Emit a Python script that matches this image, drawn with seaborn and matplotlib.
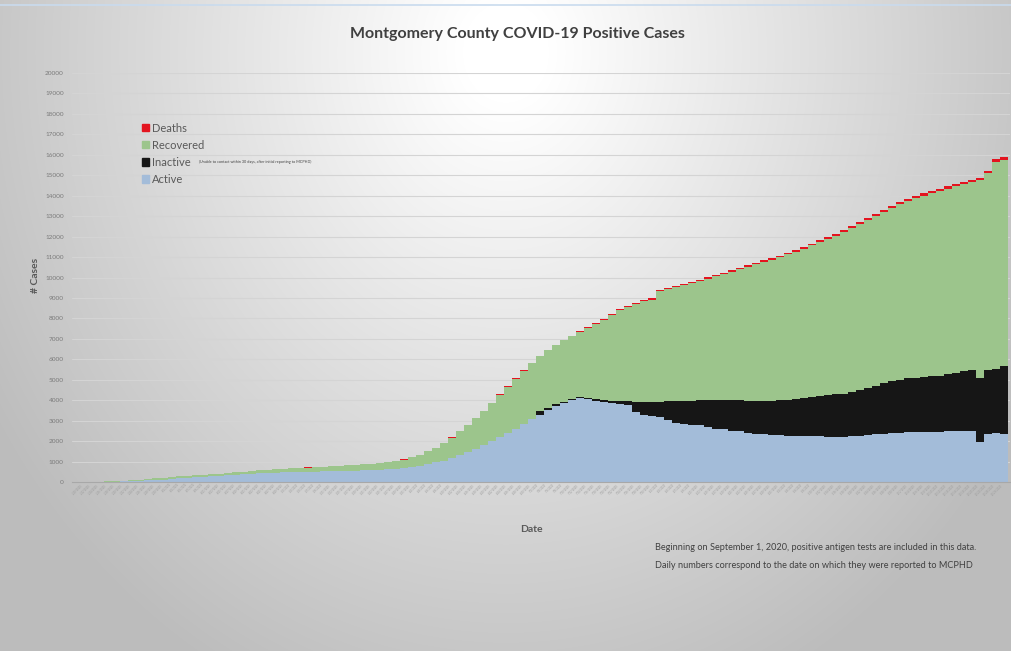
import numpy as np
import pandas as pd
import matplotlib
matplotlib.use("Agg")
import matplotlib.pyplot as plt
import seaborn as sns
from matplotlib.patches import Patch

# ---------------- data ----------------
dates = pd.date_range("2020-03-10", periods=116, freq="2D")
date_labels = [f"{d.month}/{d.day}/{d.year}" for d in dates]

active = [0, 0, 5, 10, 20, 30, 45, 60, 75, 95, 120, 150, 180, 205, 235, 260, 290, 310, 335, 360,
          380, 400, 420, 440, 460, 475, 490, 500, 505, 510, 520, 530, 540, 550, 560, 580, 600, 610, 630, 650,
          680, 730, 800, 880, 960, 1050, 1160, 1300, 1450, 1620, 1800, 2000, 2200, 2400, 2600, 2850, 3100, 3300, 3500, 3700,
          3850, 4000, 4100, 4050, 3950, 3900, 3850, 3800, 3750, 3400, 3300, 3250, 3200, 3050, 2900, 2850, 2800, 2800, 2700, 2600,
          2600, 2500, 2500, 2400, 2350, 2350, 2300, 2300, 2250, 2250, 2250, 2250, 2250, 2200, 2200, 2200, 2250, 2250, 2300, 2350,
          2350, 2400, 2400, 2450, 2450, 2450, 2450, 2450, 2500, 2500, 2500, 2500, 1950, 2350, 2400, 2350]

inactive = [0] * 57 + [150, 120, 100,
            80, 60, 50, 80, 100, 100, 120, 150, 200, 500, 600, 650, 700, 900, 1050, 1100, 1150, 1200, 1300, 1400,
            1400, 1500, 1500, 1550, 1600, 1620, 1680, 1700, 1780, 1830, 1870, 1920, 1950, 2050, 2080, 2120, 2150, 2250, 2300, 2350,
            2500, 2550, 2600, 2620, 2650, 2700, 2730, 2750, 2800, 2850, 2950, 3000, 3150, 3150, 3150, 3300]

recovered = [0, 5, 15, 24, 29, 39, 48, 58, 72, 86, 90, 94, 93, 97, 91, 95, 90, 99, 103, 113,
             122, 136, 145, 155, 159, 168, 173, 182, 197, 211, 221, 230, 240, 259, 274, 283, 293, 317, 347, 376,
             416, 475, 525, 614, 713, 852, 1011, 1170, 1318, 1496, 1664, 1862, 2060, 2257, 2454, 2600, 2696, 2692, 2818, 2884,
             3000, 3066, 3172, 3388, 3664, 3910, 4186, 4452, 4599, 4816, 4943, 5020, 5437, 5484, 5581, 5678, 5775, 5822, 5939, 6056,
             6173, 6290, 6407, 6574, 6691, 6788, 6895, 6992, 7099, 7186, 7293, 7400, 7527, 7634, 7761, 7898, 8015, 8112, 8209, 8306,
             8353, 8450, 8597, 8664, 8771, 8858, 8945, 9032, 9049, 9116, 9123, 9170, 9667, 9614, 10111, 10108]

deaths = [0, 0, 0, 0, 0, 1, 1, 1, 1, 2, 2, 3, 3, 4, 4, 5, 5, 5, 6, 6,
          6, 7, 7, 7, 8, 8, 8, 9, 9, 9, 10, 10, 10, 10, 11, 11, 11, 11, 12, 12,
          12, 12, 13, 13, 13, 14, 14, 15, 16, 17, 18, 19, 20, 21, 23, 25, 27, 29, 31, 33,
          35, 37, 39, 41, 43, 45, 47, 49, 51, 52, 54, 55, 57, 58, 60, 61, 63, 64, 66, 67,
          69, 70, 72, 73, 75, 76, 78, 79, 81, 82, 84, 85, 87, 88, 90, 91, 93, 94, 96, 97,
          99, 100, 102, 103, 105, 106, 108, 109, 111, 112, 114, 115, 117, 118, 120, 121]

y_ticks = list(range(0, 20001, 1000))

df = pd.DataFrame({"Date": date_labels, "Active": active, "Inactive": inactive,
                   "Recovered": recovered, "Deaths": deaths})
df["c_active"] = df["Active"]
df["c_inactive"] = df["c_active"] + df["Inactive"]
df["c_recovered"] = df["c_inactive"] + df["Recovered"]
df["c_deaths"] = df["c_recovered"] + df["Deaths"]

# ---------------- style ----------------
sns.set_theme(style="white")
plt.rcParams["font.family"] = ["Lato", "DejaVu Sans"]

C_ACTIVE = "#a3bcd9"
C_INACTIVE = "#161616"
C_RECOV = "#9cc58c"
C_DEATH = "#e3141f"
TXT = "#595959"

W, H = 1011, 651
fig = plt.figure(figsize=(W / 100, H / 100), dpi=100)

# background radial gradient
bg = fig.add_axes([0, 0, 1, 1], zorder=0)
yy, xx = np.mgrid[0:H, 0:W]
r = np.sqrt(((xx - 0.5 * W) / (0.55 * W)) ** 2 + ((yy - 0.08 * H) / (1.0 * H)) ** 2)
g = np.clip(1.02 - 0.26 * r, 0.74, 1.0)
bg.imshow(np.dstack([g, g, g]), aspect="auto", extent=[0, 1, 0, 1], origin="upper")
bg.set_axis_off()
bg.plot([0, 1], [0.993, 0.993], color="#c9dbee", lw=1.2, transform=bg.transAxes)

ax = fig.add_axes([72 / W, (H - 482) / H, (1010 - 72) / W, (482 - 73) / H], zorder=1)
ax.set_facecolor("none")

layers = [("c_deaths", C_DEATH), ("c_recovered", C_RECOV),
          ("c_inactive", C_INACTIVE), ("c_active", C_ACTIVE)]
for col, colr in layers:
    sns.barplot(data=df, x="Date", y=col, color=colr, saturation=1, width=0.96,
                linewidth=0, ax=ax, order=date_labels)

ax.set_ylim(0, 20000)
ax.set_xlim(-1.5, len(df) - 0.25)
ax.set_yticks(y_ticks)
ax.set_yticklabels([str(v) for v in y_ticks], fontsize=4.6, color="#7a7a7a")
ax.tick_params(axis="y", length=0, pad=6)
ax.yaxis.grid(True, color="#d4d4d4", lw=0.8)
ax.set_axisbelow(True)
ax.set_xticks(range(len(df)))
ax.set_xticklabels(date_labels, rotation=45, ha="right", fontsize=1.8, color="#9a9a9a")
ax.tick_params(axis="x", length=0, pad=1)
for s in ["top", "right", "left"]:
    ax.spines[s].set_visible(False)
ax.spines["bottom"].set_color("#a8a8a8")
ax.spines["bottom"].set_linewidth(0.8)
ax.set_xlabel("")
ax.set_ylabel("")

fig.text(36 / W, 1 - 275 / H, "# Cases", rotation=90, fontsize=7.5, fontweight="bold",
         color=TXT, ha="center", va="center")
fig.text(531 / W, 1 - 529 / H, "Date", fontsize=7.5, fontweight="bold", color=TXT,
         ha="center", va="center")
fig.text(517 / W, 1 - 34 / H, "Montgomery County COVID-19 Positive Cases", fontsize=11.5,
         fontweight="bold", color="#404040", ha="center", va="center")

# legend
handles = [Patch(color=C_DEATH), Patch(color=C_RECOV), Patch(color=C_INACTIVE), Patch(color=C_ACTIVE)]
leg = fig.legend(handles, ["Deaths", "Recovered", "Inactive", "Active"],
                 loc="upper left", bbox_to_anchor=(136 / W, 1 - 117 / H), frameon=False,
                 fontsize=8, handlelength=0.65, handleheight=0.65, handletextpad=0.3,
                 labelspacing=0.55, borderpad=0, labelcolor=TXT)
fig.text(199 / W, 1 - 162 / H,
         "(Unable to contact within 30 days, after initial reporting to MCPHD)",
         fontsize=2.7, color="#404040", ha="left", va="center")

fig.text(655 / W, 1 - 548 / H,
         "Beginning on September 1, 2020, positive antigen tests are included in this data.",
         fontsize=6.6, color="#404040", ha="left", va="center")
fig.text(655 / W, 1 - 566 / H,
         "Daily numbers correspond to the date on which they were reported to MCPHD",
         fontsize=6.6, color="#404040", ha="left", va="center")

fig.savefig("out.png", dpi=100)
